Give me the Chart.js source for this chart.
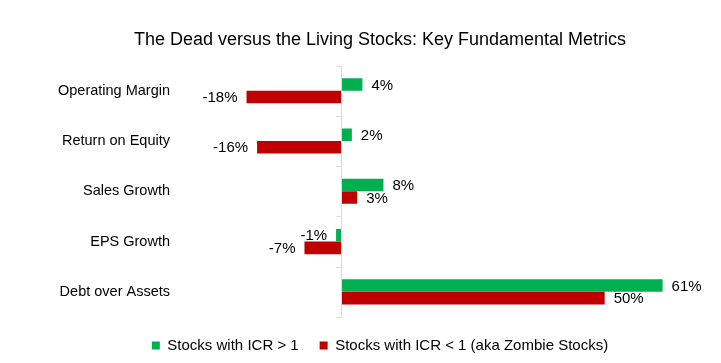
<!DOCTYPE html>
<html>
<head>
<meta charset="utf-8">
<script src="https://cdn.jsdelivr.net/npm/chart.js@4.4.1/dist/chart.umd.min.js"></script>
<style>
  html, body { margin: 0; padding: 0; background: #fff; }
  #wrap { width: 721px; height: 363px; }
</style>
</head>
<body>
<div id="wrap"><canvas id="metricsChart" width="721" height="363"></canvas></div>
<script>
const categories = ["Operating Margin", "Return on Equity", "Sales Growth", "EPS Growth", "Debt over Assets"];
const seriesNames = ["Stocks with ICR > 1", "Stocks with ICR < 1 (aka Zombie Stocks)"];
const livingValues = [4, 2, 8, -1, 61];
const zombieValues = [-18, -16, 3, -7, 50];

const FONT = "'Liberation Sans', Arial, sans-serif";

// vertical axis line at zero, with small ticks between categories
const zeroAxis = {
  id: "zeroAxis",
  afterDatasetsDraw(chart) {
    const ctx = chart.ctx;
    const xs = chart.scales.x;
    const ys = chart.scales.y;
    const x0 = Math.round(xs.getPixelForValue(0)) + 0.5;
    ctx.save();
    ctx.strokeStyle = "#d9d9d9";
    ctx.lineWidth = 1;
    ctx.beginPath();
    ctx.moveTo(x0, chart.chartArea.top);
    ctx.lineTo(x0, chart.chartArea.bottom);
    for (let i = 0; i <= categories.length; i++) {
      const y = Math.round(ys.getPixelForValue(i - 0.5)) + 0.5;
      ctx.moveTo(x0 - 5, y);
      ctx.lineTo(x0, y);
    }
    ctx.stroke();
    ctx.restore();
  }
};

// percent labels at the end of each bar
const barLabels = {
  id: "barLabels",
  afterDatasetsDraw(chart) {
    const ctx = chart.ctx;
    ctx.save();
    ctx.font = "15px " + FONT;
    ctx.fillStyle = "#000";
    ctx.textBaseline = "middle";
    chart.data.datasets.forEach((ds, di) => {
      const meta = chart.getDatasetMeta(di);
      meta.data.forEach((bar, i) => {
        const v = ds.data[i];
        if (v >= 0) {
          ctx.textAlign = "left";
          ctx.fillText(v + "%", bar.x + 9, bar.y + 1);
        } else {
          ctx.textAlign = "right";
          ctx.fillText(v + "%", bar.x - 9, bar.y + 1);
        }
      });
    });
    ctx.restore();
  }
};

new Chart(document.getElementById("metricsChart"), {
  type: "bar",
  data: {
    labels: categories,
    datasets: [
      {
        label: seriesNames[0],
        data: livingValues,
        backgroundColor: "#00b050",
        categoryPercentage: 0.5,
        barPercentage: 1.0
      },
      {
        label: seriesNames[1],
        data: zombieValues,
        backgroundColor: "#c00000",
        categoryPercentage: 0.5,
        barPercentage: 1.0
      }
    ]
  },
  options: {
    indexAxis: "y",
    responsive: false,
    animation: false,
    layout: { padding: { left: 50, right: 11, top: 0, bottom: 0 } },
    scales: {
      x: {
        min: -20,
        max: 70,
        display: false
      },
      y: {
        // tickLength (not drawn) keeps the labels away from the plot
        grid: { display: false, drawTicks: true, tickLength: 66 },
        border: { display: false },
        ticks: {
          padding: 0,
          color: "#000",
          font: { family: FONT, size: 14.5 }
        },
        afterFit(scale) { scale.width = 186; }
      }
    },
    plugins: {
      title: {
        display: true,
        text: "The Dead versus the Living Stocks: Key Fundamental Metrics",
        color: "#000",
        font: { family: FONT, size: 18, weight: "normal" },
        padding: { top: 29, bottom: 15 }
      },
      legend: {
        position: "bottom",
        labels: {
          boxWidth: 8,
          boxHeight: 8,
          padding: 21,
          color: "#000",
          font: { family: FONT, size: 15 }
        }
      },
      tooltip: { enabled: false }
    }
  },
  plugins: [zeroAxis, barLabels]
});
</script>
</body>
</html>
